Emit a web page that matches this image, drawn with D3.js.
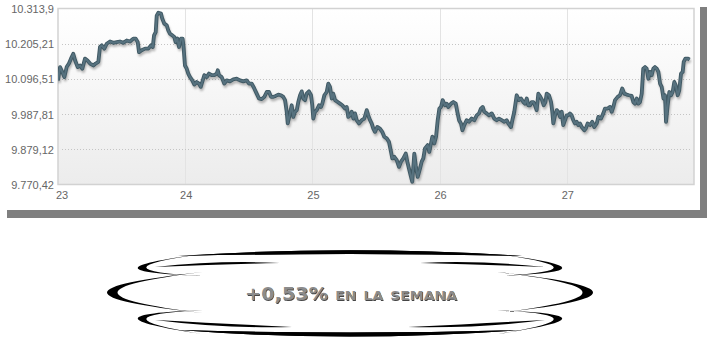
<!DOCTYPE html>
<html>
<head>
<meta charset="utf-8">
<script src="https://cdn.jsdelivr.net/npm/d3@7"></script>
<style>
	html, body { margin: 0; padding: 0; background: #fff; }
	svg { display: block; }
	.tick text { font: 11px "Liberation Sans", Arial, sans-serif; fill: #666; }
</style>
</head>
<body>
<svg></svg>
<script>
// time of each quote, in days of the month (23 = start of day 23)
var times = [
	23.000,23.016,23.034,23.050,23.068,23.086,23.102,23.120,23.134,23.155,
	23.173,23.191,23.212,23.230,23.252,23.278,23.296,23.317,23.330,23.344,
	23.364,23.383,23.409,23.435,23.461,23.487,23.513,23.540,23.566,23.592,
	23.611,23.627,23.637,23.658,23.684,23.710,23.731,23.745,23.755,23.768,
	23.776,23.789,23.810,23.820,23.836,23.855,23.867,23.880,23.899,23.914,
	23.925,23.938,23.951,23.967,23.980,23.988,23.998,24.012,24.024,24.038,
	24.056,24.072,24.090,24.108,24.122,24.134,24.150,24.169,24.187,24.208,
	24.229,24.248,
	24.256,24.266,24.287,24.307,24.326,24.352,24.378,24.405,24.431,24.457,
	24.483,24.502,24.523,24.543,24.562,24.580,24.601,24.622,24.641,24.659,
	24.675,24.693,24.711,24.732,24.753,24.771,24.785,24.798,24.806,24.824,
	24.837,24.850,24.863,24.877,24.889,24.903,24.916,24.928,24.942,24.955,
	24.973,24.989,24.999,25.007,25.020,25.034,25.052,25.068,25.078,25.094,
	25.112,25.125,25.138,25.152,25.164,25.178,25.199,25.217,25.235,25.256,
	25.270,25.282,25.296,25.309,25.322,25.335,25.348,25.366,25.388,25.408,
	25.427,25.439,25.453,25.466,25.479,25.492,25.510,
	25.531,25.549,25.565,25.584,25.602,25.618,25.628,25.644,25.663,25.681,
	25.697,25.715,25.734,25.746,25.759,25.775,25.785,25.801,25.812,25.828,
	25.846,25.859,25.872,25.885,25.906,25.919,25.932,25.943,25.958,25.972,
	25.985,25.998,26.011,26.024,26.042,26.056,26.068,26.090,26.108,26.127,
	26.139,26.153,26.168,26.179,26.194,26.213,26.231,26.252,26.273,26.292,
	26.310,26.325,26.339,26.351,26.370,26.388,26.410,26.430,26.449,26.467,
	26.488,26.509,26.527,26.540,26.561,26.572,26.587,26.606,26.624,26.640,
	26.658,26.671,26.685,26.697,26.711,26.724,26.737,26.750,26.763,26.776,
	26.792,26.806,26.818,26.832,26.842,26.860,26.876,26.886,26.894,26.907,
	26.921,26.933,26.947,26.960,26.972,26.986,26.999,27.012,27.025,27.038,
	27.051,27.064,27.078,27.090,27.104,27.117,27.138,27.149,27.164,27.182,
	27.200,27.216,27.235,27.248,27.269,27.287,27.300,27.321,27.340,27.353,
	27.366,27.379,27.400,27.418,27.436,27.452,27.471,27.489,27.510,27.523,
	27.536,27.550,27.562,27.575,27.589,27.601,27.615,27.628,27.641,27.654,
	27.667,27.680,27.693,27.707,27.720,27.733,27.746,27.760,27.772,27.780,
	27.793,27.806,27.820,27.832,27.845,27.856,27.872,27.884,27.898,27.911,
	27.919,27.932,27.953,27.965
];

// index level at each time
var values = [
	10092,10133,10118,10102,10133,10144,10159,10174,10154,10133,
	10138,10128,10159,10154,10144,10138,10144,10149,10195,10200,
	10190,10205,10212,10208,10210,10212,10208,10215,10212,10221,
	10221,10210,10179,10185,10190,10190,10200,10195,10231,10241,
	10292,10301,10298,10282,10267,10262,10246,10236,10231,10226,
	10210,10221,10195,10221,10221,10190,10138,10128,10113,10102,
	10092,10079,10087,10082,10072,10087,10108,10102,10113,10108,
	10108,10113,
	10123,10108,10102,10082,10092,10089,10095,10097,10092,10089,
	10092,10082,10082,10067,10051,10036,10034,10041,10056,10056,
	10041,10041,10044,10048,10046,10041,10031,9995,9959,9990,
	10015,9979,9995,10000,10025,10046,10058,10036,10031,10051,
	10058,10046,10015,9974,9995,10000,10015,10010,10020,10046,
	10056,10082,10072,10036,10051,10031,10025,10020,10015,10005,
	10010,9979,9984,9995,9974,9990,9969,9959,9969,9974,
	10000,9984,9969,9959,9943,9933,9948,
	9943,9933,9918,9913,9902,9871,9851,9856,9846,9825,
	9841,9851,9866,9841,9820,9794,9779,9866,9830,9794,
	9820,9841,9851,9882,9892,9871,9897,9918,9897,9918,
	9969,10005,10010,10031,10015,10020,10010,10020,10025,10020,
	9995,9969,9959,9938,9954,9969,9964,9974,9969,9984,
	9990,10005,10010,9995,9990,9984,9990,9974,9969,9974,
	9969,9964,9969,9959,9948,9969,9995,10046,10031,10036,
	10025,10020,10036,10015,10015,10025,10025,10015,10000,10051,
	10041,10031,10015,10025,10051,10046,10025,9995,9959,9984,
	10000,9995,9979,9995,9954,9969,9984,9984,9990,9984,
	9969,9959,9964,9954,9959,9948,9938,9943,9959,9954,
	9964,9948,9959,9979,9974,9990,10005,10005,10010,9995,
	10010,10031,10041,10046,10067,10051,10048,10046,10044,10025,
	10020,10036,10020,10025,10051,10128,10133,10128,10097,10118,
	10108,10128,10133,10128,10118,10082,10072,10036,10046,9964,
	10015,10056,10046,10056,10087,10077,10046,10061,10113,10118,
	10149,10159,10159,10156
];

var dayTicks = [23, 24, 25, 26, 27];
var dayLabels = ["23", "24", "25", "26", "27"];
var yTicks = [9770.42, 9879.12, 9987.81, 10096.51, 10205.21, 10313.9];
var yLabels = ["9.770,42", "9.879,12", "9.987,81", "10.096,51", "10.205,21", "10.313,9"];
var changeValue = "+0,53%";
var changeText = " en la semana";

var W = 711, H = 343;
var plot = {left: 58, right: 694, top: 8.5, bottom: 184.5};

var svg = d3.select("svg").attr("width", W).attr("height", H);
var defs = svg.append("defs");

var grad = defs.append("linearGradient").attr("id", "bg").attr("x1", 0).attr("y1", 0).attr("x2", 0).attr("y2", 1);
grad.append("stop").attr("offset", "0%").attr("stop-color", "#ffffff");
grad.append("stop").attr("offset", "100%").attr("stop-color", "#ececec");

defs.append("filter").attr("id", "blur").attr("x", "-5%").attr("y", "-20%").attr("width", "110%").attr("height", "140%")
	.append("feGaussianBlur").attr("stdDeviation", 1.2);
defs.append("filter").attr("id", "soft")
	.append("feGaussianBlur").attr("stdDeviation", 0.35);
defs.append("clipPath").attr("id", "clip").append("rect")
	.attr("x", plot.left).attr("y", plot.top - 4)
	.attr("width", plot.right - plot.left).attr("height", plot.bottom - plot.top + 4);

// panel with its drop shadow
svg.append("rect").attr("x", 7).attr("y", 7).attr("width", 700).attr("height", 211).attr("fill", "#7f7f7f");
svg.append("rect").attr("x", 0).attr("y", 0).attr("width", 700).attr("height", 210).attr("fill", "#fff");

var x = d3.scaleLinear().domain([23, 28]).range([plot.left, plot.right]);
var y = d3.scaleLinear().domain([yTicks[0], yTicks[yTicks.length - 1]]).range([plot.bottom, plot.top]);

svg.append("rect")
	.attr("x", plot.left).attr("y", plot.top)
	.attr("width", plot.right - plot.left).attr("height", plot.bottom - plot.top)
	.attr("fill", "url(#bg)");

// grid
svg.append("g").selectAll("line").data(dayTicks.slice(1)).enter().append("line")
	.attr("x1", function(d) { return Math.round(x(d)) + 0.5; })
	.attr("x2", function(d) { return Math.round(x(d)) + 0.5; })
	.attr("y1", plot.top).attr("y2", plot.bottom)
	.attr("stroke", "#e3e3e3");
svg.append("g").selectAll("line").data(yTicks.slice(1, -1)).enter().append("line")
	.attr("x1", plot.left + 4).attr("x2", plot.right - 4)
	.attr("y1", function(d) { return Math.round(y(d)) + 0.5; })
	.attr("y2", function(d) { return Math.round(y(d)) + 0.5; })
	.attr("stroke", "#c4c4c4").attr("stroke-dasharray", "1,2");

svg.append("rect")
	.attr("x", plot.left).attr("y", plot.top)
	.attr("width", plot.right - plot.left).attr("height", plot.bottom - plot.top)
	.attr("fill", "none").attr("stroke", "#d2d2d2").attr("stroke-width", 1.5);

// axes (labels only)
var yAxis = d3.axisLeft(y).tickValues(yTicks).tickSize(0).tickPadding(4)
	.tickFormat(function(d, i) { return yLabels[i]; });
svg.append("g").attr("transform", "translate(" + plot.left + ",0.5)").call(yAxis)
	.call(function(g) { g.select(".domain").remove(); });

var xAxis = d3.axisBottom(x).tickValues(dayTicks).tickSize(0).tickPadding(7)
	.tickFormat(function(d, i) { return dayLabels[i]; });
var gx = svg.append("g").attr("transform", "translate(0," + plot.bottom + ")").call(xAxis);
gx.select(".domain").remove();
gx.selectAll(".tick").attr("transform", function(d) {
	return "translate(" + Math.max(x(d) + 1, plot.left + 4) + ",0)";
});

// series
var line = d3.line()
	.x(function(d, i) { return x(times[i]); })
	.y(function(d) { return y(d); });

var g = svg.append("g").attr("clip-path", "url(#clip)");
g.append("path").attr("d", line(values))
	.attr("fill", "none").attr("stroke", "rgba(0,0,0,0.28)").attr("stroke-width", 3.5)
	.attr("stroke-linejoin", "round")
	.attr("transform", "translate(1,2.5)").attr("filter", "url(#blur)");
g.append("path").attr("d", line(values))
	.attr("fill", "none").attr("stroke", "#3f5863").attr("stroke-width", 3.8)
	.attr("stroke-linejoin", "round");
g.append("path").attr("d", line(values))
	.attr("fill", "none").attr("stroke", "#57727f").attr("stroke-width", 2)
	.attr("stroke-linejoin", "round");

// banner underneath: brush-like crescents, right half mirrored to the left
var cx = 350;
function crescent(p0, p1, cOut, cIn) {
	return "M" + p0 + "Q" + cOut + " " + p1 + "Q" + cIn + " " + p0 + "Z";
}
var rightParts = [
	[[178,256],[522,256],[350,244.5],[350,252]],   // top edge
	[[498,254],[497,276],[627,271],[610,270]],     // upper lobe
	[[420,263],[545,267],[480,260],[480,264.5]],   // upper tail
	[[497,272],[497,313],[689,292.5],[668,292.5]], // middle lobe
	[[498,334],[497,310],[627,315],[610,316]],     // lower lobe
	[[408,327],[545,320],[480,328.5],[480,323.5]], // lower tail
	[[178,330],[522,330],[350,343],[350,335]]      // bottom edge
];
function mirrorX(p) { return [2 * cx - p[0], p[1]]; }
var parts = rightParts.concat(rightParts.map(function(s) { return s.map(mirrorX); }));
svg.append("g").attr("filter", "url(#soft)").selectAll("path").data(parts).enter().append("path")
	.attr("d", function(s) { return crescent(s[0], s[1], s[2], s[3]); })
	.attr("fill", "#000");

function caption(sel, dx, dy, colour) {
	var t = sel.append("text").attr("x", cx + dx).attr("y", 300 + dy).attr("text-anchor", "middle")
		.attr("textLength", 212).attr("lengthAdjust", "spacingAndGlyphs")
		.attr("fill", colour)
		.style("font-family", "'DejaVu Sans', sans-serif").style("font-weight", "bold");
	t.append("tspan").style("font-size", "18px").text(changeValue);
	t.append("tspan").style("font-size", "19px").style("font-variant", "small-caps").text(changeText);
	return t;
}
var label = svg.append("g");
caption(label, 1.7, 0.8, "#454545").attr("filter", "url(#soft)");
caption(label, 1, 0, "#8c8c8c");
</script>
</body>
</html>
